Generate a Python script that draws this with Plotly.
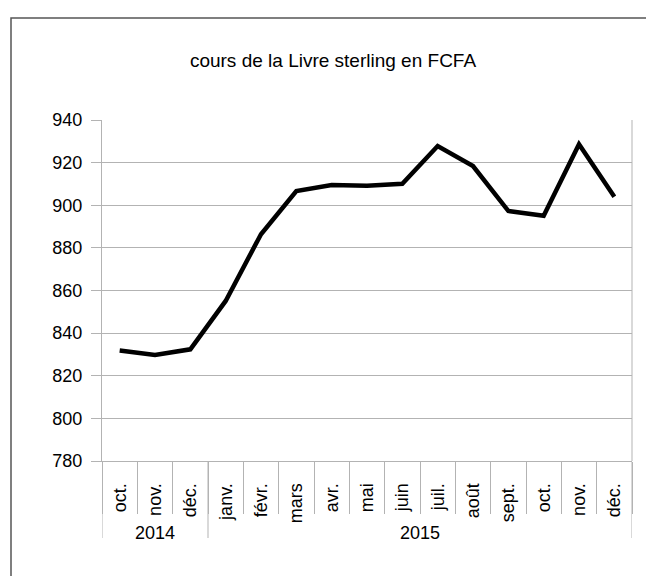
import plotly.graph_objects as go

years = ["2014", "2015"]
year_counts = [3, 12]
months = ["oct.", "nov.", "déc.", "janv.", "févr.", "mars", "avr.", "mai",
          "juin", "juil.", "août", "sept.", "oct.", "nov.", "déc."]
values = [831.8, 829.7, 832.4, 855.1, 886.4, 906.7, 909.5, 909.2,
          910.1, 927.8, 918.4, 897.3, 895.1, 928.6, 904.0]
title = "cours de la Livre sterling en FCFA"

FONT = "Liberation Sans, Arial, sans-serif"
GRID = "#b3b3b3"

idx = list(range(len(months)))

fig = go.Figure()
fig.add_trace(go.Scatter(
    x=idx, y=values, mode="lines",
    line=dict(color="black", width=4.5), showlegend=False,
))

L, R, T, B = 102, 14, 120, 115
W, H = 646, 576
pw, ph = W - L - R, H - T - B


def py_paper(py):
    return (H - B - py) / ph


def px_paper(px):
    return (px - L) / pw


shapes = [
    dict(type="line", xref="paper", yref="paper", x0=1, x1=1, y0=0, y1=1,
         line=dict(color=GRID, width=1)),
    dict(type="rect", xref="paper", yref="paper",
         x0=px_paper(11), x1=px_paper(660), y0=py_paper(590), y1=py_paper(18),
         line=dict(color="#555555", width=1.5), fillcolor="rgba(0,0,0,0)",
         layer="below"),
]
annotations = []
start = 0
bounds = [-0.5]
for yr, n in zip(years, year_counts):
    end = start + n
    bounds.append(end - 0.5)
    annotations.append(dict(
        x=(start + end - 1) / 2, y=py_paper(533), xref="x", yref="paper",
        text=yr, showarrow=False, xanchor="center", yanchor="middle",
        font=dict(size=18, color="black", family=FONT),
    ))
    start = end
for b in bounds:
    shapes.append(dict(type="line", xref="x", yref="paper", x0=b, x1=b,
                       y0=py_paper(461), y1=py_paper(538),
                       line=dict(color=GRID, width=1)))

fig.update_layout(
    width=W, height=H,
    margin=dict(l=L, r=R, t=T, b=B, autoexpand=False),
    paper_bgcolor="white", plot_bgcolor="white",
    font=dict(family=FONT, size=18, color="black"),
    title=dict(text=title, x=px_paper(333), xref="paper", xanchor="center",
               y=1 - 60 / H, yanchor="middle", font=dict(size=19)),
    xaxis=dict(
        range=[-0.5, len(months) - 0.5], tickmode="array", tickvals=idx,
        ticktext=months, tickangle=-90, ticks="", showline=True,
        linecolor=GRID, linewidth=1, showgrid=False, zeroline=False,
        tickfont=dict(size=18), ticklabelstandoff=14,
        minor=dict(tickmode="array", tickvals=[i - 0.5 for i in idx] + [len(months) - 0.5],
                   ticks="outside", ticklen=52, tickcolor=GRID, showgrid=False),
    ),
    yaxis=dict(
        range=[780, 940], dtick=20, tick0=780, showgrid=True, gridcolor=GRID,
        gridwidth=1, ticks="outside", ticklen=10, tickcolor=GRID,
        showline=True, linecolor=GRID, linewidth=1, zeroline=False,
        tickfont=dict(size=18), ticklabelstandoff=5,
    ),
    shapes=shapes,
    annotations=annotations,
)

fig.write_html("out.html", config={"displayModeBar": False},
               post_script="document.body.style.margin='0';")
